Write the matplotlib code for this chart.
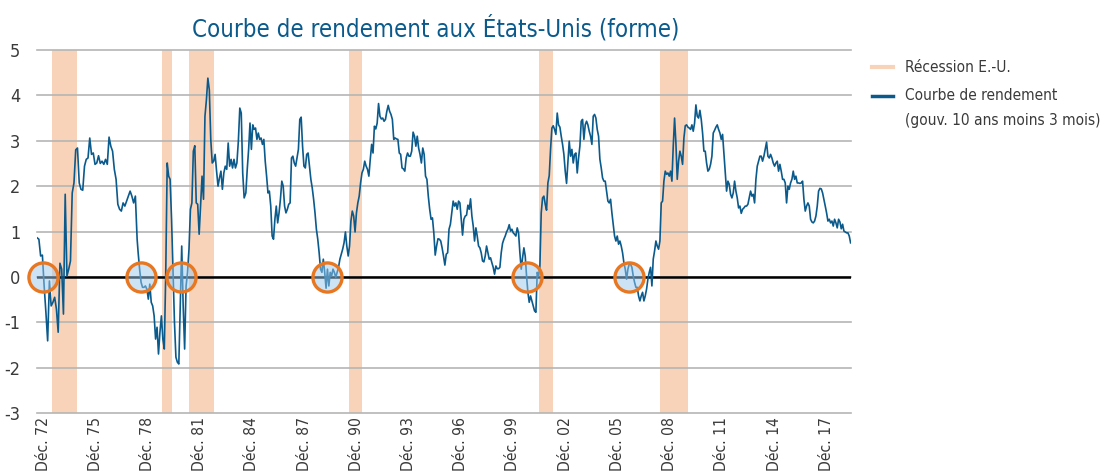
import matplotlib
matplotlib.use("Agg")
import matplotlib.pyplot as plt
import matplotlib.font_manager as fm
from matplotlib.lines import Line2D
import numpy as np

# police étroite si disponible (le graphique d'origine est en caractères condensés)
etroites = [f for f in fm.fontManager.ttflist
            if ('Narrow' in f.name or 'Condensed' in f.fname or f.stretch == 'condensed')
            and f.style == 'normal' and f.weight in (400, 'normal', 'regular')]
if etroites:
    plt.rcParams['font.family'] = [etroites[0].name, 'DejaVu Sans']
    plt.rcParams['font.stretch'] = etroites[0].stretch
else:
    plt.rcParams['font.family'] = ['Liberation Sans', 'DejaVu Sans']
plt.rcParams['axes.unicode_minus'] = False

# Écart 10 ans - 3 mois, par tronçons (début, fin en années décimales)
ecart_73_78 = [0.86, 0.83, 0.46, 0.48, -0.2, -0.78, -1.41, -0.09, -0.64, -0.56, -0.45, -0.71,
               -1.22, 0.3, 0.17, -0.82, 1.82, 0.02, 0.17, 0.35, 1.85, 2.07, 2.8, 2.84, 2.07,
               1.93, 1.91, 2.44, 2.59, 2.62, 3.06, 2.7, 2.73, 2.48, 2.51, 2.67, 2.5, 2.55, 2.48,
               2.59, 2.48, 3.08, 2.88, 2.77, 2.37, 2.15, 1.6, 1.49, 1.45, 1.63, 1.56, 1.67, 1.78,
               1.89, 1.78, 1.63, 1.78, 0.83]
ecart_78_84 = [0.53, 0.17, -0.12, -0.23, -0.23, -0.2, -0.27, -0.49, -0.16, -0.56, -0.64, -0.86,
               -1.37, -1.11, -1.7, -1.22, -0.86, -1.37, -1.59, 0.1, 2.51, 2.22, 2.15, 1.27, 0.1,
               -1.0, -1.77, -1.88, -1.92, -0.64, 0.68, -0.64, -1.59, -0.2, 0.1, 0.61, 1.49, 1.63,
               2.77, 2.89, 1.63, 1.6, 0.94, 1.56, 2.22, 1.71, 3.54, 3.9, 4.38, 4.12, 3.03, 2.51,
               2.55, 2.7, 2.33, 2.0, 2.18, 2.33, 1.93, 2.29, 2.44, 2.37, 2.95, 2.44, 2.59, 2.4,
               2.59, 2.4, 2.51, 2.99, 3.72, 3.61, 2.29, 1.74]
ecart_84_90 = [1.85, 2.37, 2.81, 3.39, 2.81, 3.35, 3.25, 3.28, 3.03, 3.17, 3.03, 3.06, 2.92, 3.03,
               2.55, 2.22, 1.85, 1.89, 1.56, 0.9, 0.83, 1.27, 1.56, 1.19, 1.41, 1.71, 2.11, 2.0,
               1.56, 1.41, 1.49, 1.6, 1.63, 2.62, 2.66, 2.51, 2.44, 2.62, 2.81, 3.47, 3.52, 2.88,
               2.44, 2.4, 2.7, 2.73, 2.44, 2.15, 1.96, 1.71, 1.41, 1.05, 0.83, 0.53, 0.17, 0.1,
               0.39, 0.1, -0.25, 0.17, -0.2, 0.1, 0.02, 0.17, 0.1, -0.01, 0.1, 0.21, 0.39, 0.5,
               0.61, 0.75, 0.99, 0.68, 0.46]
ecart_90_96 = [0.68, 1.23, 1.45, 1.34, 0.99, 1.41, 1.63, 1.78, 2.07, 2.29, 2.37, 2.55, 2.44, 2.37,
               2.22, 2.59, 2.92, 2.73, 3.32, 3.26, 3.39, 3.82, 3.54, 3.48, 3.5, 3.43, 3.47, 3.65,
               3.78, 3.65, 3.58, 3.47, 3.03, 3.06, 3.04, 3.03, 2.73, 2.7, 2.4, 2.38, 2.33, 2.62,
               2.73, 2.66, 2.66, 2.77, 3.19, 3.1, 2.88, 3.1, 2.84, 2.7, 2.51, 2.84, 2.7, 2.22,
               2.15, 1.78, 1.49, 1.27, 1.3, 0.97, 0.48, 0.68, 0.84, 0.83, 0.79, 0.64, 0.46, 0.26,
               0.5, 0.53, 1.05, 1.16, 1.41, 1.67, 1.56]
ecart_96_02 = [1.63, 1.49, 1.67, 1.63, 1.27, 0.92, 1.27, 1.34, 1.36, 1.58, 1.49, 1.72, 1.34, 1.12,
               0.79, 1.08, 0.9, 0.68, 0.64, 0.53, 0.35, 0.33, 0.46, 0.68, 0.53, 0.39, 0.42, 0.31,
               0.21, 0.06, 0.24, 0.18, 0.18, 0.21, 0.53, 0.74, 0.83, 0.9, 0.99, 1.05, 1.15, 1.01,
               1.05, 0.97, 0.94, 0.9, 1.08, 0.97, 0.53, 0.17, 0.42, 0.64, 0.46, 0.02, -0.34, -0.56,
               -0.42, -0.53, -0.64, -0.75, -0.78, 0.1, 0.02, 0.24, 1.41, 1.74, 1.78, 1.6, 1.47,
               2.07, 2.23, 2.81, 3.28, 3.33, 3.25]
ecart_02_07 = [3.14, 3.61, 3.35, 3.3, 3.1, 2.92, 2.7, 2.33, 2.06, 2.51, 2.99, 2.66, 2.81, 2.51,
               2.7, 2.73, 2.29, 2.62, 2.88, 3.43, 3.47, 3.03, 3.35, 3.43, 3.35, 3.21, 3.1, 2.92,
               3.54, 3.58, 3.5, 3.25, 3.1, 2.59, 2.4, 2.18, 2.11, 2.11, 1.89, 1.67, 1.63, 1.71,
               1.41, 1.16, 0.9, 0.79, 0.9, 0.72, 0.79, 0.68, 0.53, 0.31, 0.17, -0.05, 0.17, 0.28,
               0.28, 0.21, 0.02, -0.12, -0.23, -0.23, -0.42, -0.53, -0.42, -0.34, -0.53, -0.42,
               -0.27, -0.05, 0.1, 0.21, -0.2, 0.39, 0.57, 0.79, 0.68]
ecart_07_13 = [0.61, 0.79, 1.63, 1.67, 2.11, 2.33, 2.26, 2.29, 2.22, 2.33, 2.11, 2.88, 3.5, 2.95,
               2.15, 2.55, 2.77, 2.66, 2.48, 3.06, 3.33, 3.35, 3.3, 3.28, 3.25, 3.35, 3.21, 3.39,
               3.79, 3.54, 3.5, 3.67, 3.47, 3.17, 2.77, 2.77, 2.51, 2.33, 2.37, 2.48, 2.66, 3.17,
               3.23, 3.3, 3.35, 3.25, 3.17, 3.03, 3.14, 2.73, 2.29, 1.89, 2.11, 2.04, 1.82, 1.74,
               1.85, 2.11, 1.89, 1.74, 1.52, 1.56, 1.4, 1.49, 1.52, 1.56, 1.56, 1.6, 1.74, 1.89,
               1.78, 1.82, 1.63, 2.15, 2.44, 2.55, 2.66]
ecart_13_18 = [2.66, 2.55, 2.66, 2.81, 2.97, 2.66, 2.62, 2.7, 2.62, 2.51, 2.44, 2.51, 2.55, 2.33,
               2.48, 2.33, 2.15, 2.15, 2.07, 1.63, 2.0, 1.93, 2.07, 2.15, 2.33, 2.15, 2.22, 2.07,
               2.07, 2.06, 2.07, 2.11, 1.71, 1.45, 1.56, 1.63, 1.56, 1.27, 1.21, 1.19, 1.23, 1.34,
               1.56, 1.89, 1.95, 1.94, 1.85, 1.71, 1.56, 1.41, 1.23, 1.27, 1.19, 1.23, 1.12, 1.27,
               1.19, 1.08, 1.27, 1.21, 1.06, 1.16, 1.01, 0.99, 0.97, 0.97, 0.9, 0.75]

troncons = [
    (1973.007, 1978.615, ecart_73_78),
    (1978.673, 1984.617, ecart_78_84),
    (1984.712, 1990.451, ecart_84_90),
    (1990.526, 1996.415, ecart_90_96),
    (1996.490, 2002.023, ecart_96_02),
    (2002.098, 2007.781, ecart_02_07),
    (2007.856, 2013.539, ecart_07_13),
    (2013.613, 2018.624, ecart_13_18),
]

# Récessions américaines (NBER), années décimales
recessions = [(1973.833, 1975.25), (1980.0, 1980.583), (1981.5, 1982.917),
              (1990.5, 1991.25), (2001.167, 2001.917), (2007.917, 2009.5)]

# Inversions encerclées
inversions = [1973.343, 1978.823, 1981.066, 1989.27, 2000.49, 2006.19]

annees_ticks = ['72', '75', '78', '81', '84', '87', '90', '93', '96', '99',
                '02', '05', '08', '11', '14', '17']

bleu = '#0b5a8c'
peche = '#f8d3b9'
gris_txt = '#3a3a3a'

dates = np.concatenate([np.linspace(a, b, len(v)) for a, b, v in troncons])
valeurs = np.concatenate([v for a, b, v in troncons])

fig = plt.figure(figsize=(11.04, 4.73), dpi=100)
ax = fig.add_axes([37 / 1104, 1 - 413 / 473, (850.7 - 37) / 1104, (413 - 50) / 473])

for debut, fin in recessions:
    ax.axvspan(debut, fin, color=peche, lw=0, zorder=0)

ax.set_ylim(-3, 5)
ax.set_xlim(1973.0, 2018.63)
ax.set_yticks(range(-3, 6))
ax.yaxis.grid(True, color='#b5b5b5', lw=1.2, zorder=0.5)
ax.set_axisbelow(True)
for gl in ax.get_ygridlines():
    gl.set_clip_on(False)
ax.axhline(0, color='black', lw=1.8, zorder=2)

ax.plot(dates, valeurs, color=bleu, lw=1.2, zorder=3)
ax.scatter(inversions, np.zeros(len(inversions)), s=440, facecolor=(0.6, 0.79, 0.93, 0.5),
           edgecolor='#e87722', linewidth=2.4, zorder=4, clip_on=False)

for s in ax.spines.values():
    s.set_visible(False)

ax.set_xticks(np.linspace(1973.34, 2017.26, len(annees_ticks)))
ax.set_xticklabels(['Déc. ' + a for a in annees_ticks], rotation=90)
ax.tick_params(axis='x', length=0, pad=3, labelsize=12, labelcolor=gris_txt)
ax.tick_params(axis='y', length=0, pad=12, labelsize=13, labelcolor=gris_txt)

titre = fig.text(435.5 / 1104, 1 - 28 / 473, 'Courbe de rendement aux États-Unis (forme)',
                 ha='center', va='center', color=bleu, fontsize=20)

# légende
fig.add_artist(Line2D([872 / 1104, 893 / 1104], [1 - 67 / 473] * 2, color=peche, lw=3,
                      transform=fig.transFigure))
fig.add_artist(Line2D([872 / 1104, 893 / 1104], [1 - 96 / 473] * 2, color=bleu, lw=2.5,
                      transform=fig.transFigure))
leg1 = fig.text(905 / 1104, 1 - 67 / 473, 'Récession E.-U.', va='center', fontsize=13,
                color=gris_txt)
leg2 = fig.text(905 / 1104, 1 - 95 / 473, 'Courbe de rendement', va='center', fontsize=13,
                color=gris_txt)
leg3 = fig.text(905 / 1104, 1 - 120 / 473, '(gouv. 10 ans moins 3 mois)', va='center',
                fontsize=13, color=gris_txt)

# ajuster les tailles de texte aux largeurs mesurées sur l'original
fig.canvas.draw()
rend = fig.canvas.get_renderer()
w = titre.get_window_extent(rend).width
titre.set_fontsize(20 * 485 / w)
w2 = leg2.get_window_extent(rend).width
w3 = leg3.get_window_extent(rend).width
taille_leg = min(13 * 157 / w2, 13 * 195 / w3)
for t in (leg1, leg2, leg3):
    t.set_fontsize(taille_leg)
lab = ax.get_xticklabels()[0]
h = lab.get_window_extent(rend).height
ax.tick_params(axis='x', labelsize=12 * 54 / h)

fig.savefig('out.png', dpi=100)
